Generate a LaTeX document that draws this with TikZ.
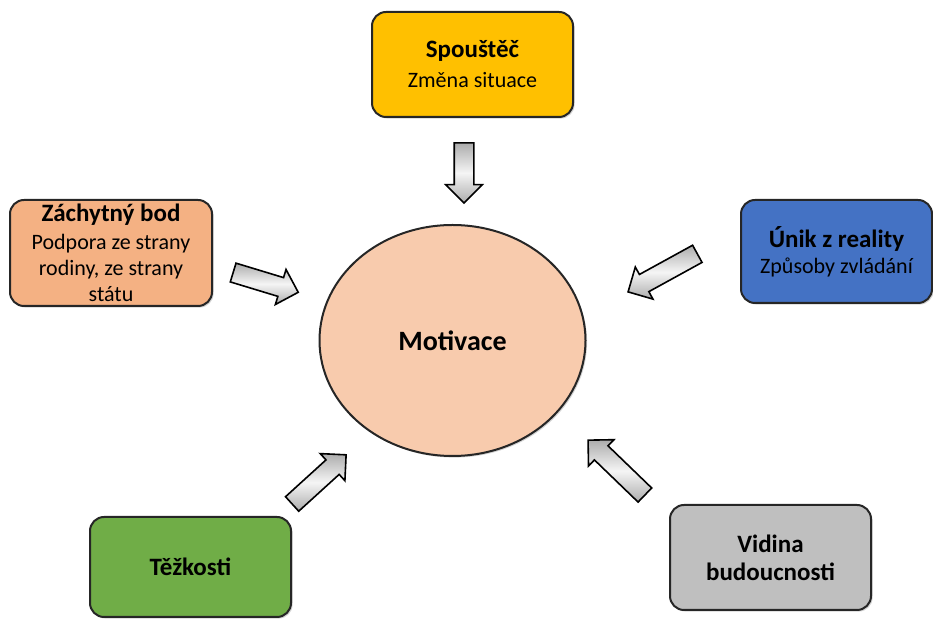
\documentclass[tikz,border=0pt]{standalone}
\usepackage{fontspec}
\setmainfont{Carlito}
\usetikzlibrary{shapes.geometric, shapes.arrows, shadows}

\definecolor{spoustec}{HTML}{FFC000}
\definecolor{zachytny}{HTML}{F4B183}
\definecolor{unik}{HTML}{4472C4}
\definecolor{tezkosti}{HTML}{70AD47}
\definecolor{vidina}{HTML}{BFBFBF}
\definecolor{motivace}{HTML}{F8CBAD}

\tikzset{
  box/.style={draw=black!85, line width=1pt, rounded corners=7pt,
    minimum width=100.5pt, minimum height=52.5pt, inner sep=2pt, align=center,
    font=\fontsize{11}{13}\selectfont,
    drop shadow={opacity=0.35, shadow xshift=0.8pt, shadow yshift=-0.8pt}},
  blockarrow/.style={single arrow, draw=black, line width=0.8pt,
    minimum width=17.5pt, inner sep=4.5pt, single arrow head extend=4.25pt,
    top color=gray!65, bottom color=gray!65, middle color=gray!8}
}
\newcommand{\nadpis}[1]{{\fontsize{12.5}{15}\selectfont\bfseries #1}}

\begin{document}
\begin{tikzpicture}[x=0.5pt, y=-0.5pt]
	\useasboundingbox (0,0) rectangle (933,619);

	% centre
	\node[ellipse, draw=black!85, line width=1pt, fill=motivace,
		minimum width=133pt, minimum height=115.5pt, inner sep=0pt,
		drop shadow={opacity=0.35, shadow xshift=0.8pt, shadow yshift=-0.8pt}]
		(motiv) at (452.5,340.5) {\fontsize{14}{16}\selectfont\bfseries Motivace};

	% boxes round it
	\node[box, fill=spoustec] (spoust) at (472.5,64.5)
		{\nadpis{Spouštěč}\\[2pt] Změna situace};
	\node[box, fill=zachytny, minimum width=101pt, minimum height=53pt] (zachyt) at (111,253)
		{\nadpis{Záchytný bod}\\[1pt] Podpora ze strany\\ rodiny, ze strany\\ státu};
	\node[box, fill=unik, minimum width=95.5pt, minimum height=51.5pt] (unik) at (836.5,251.5)
		{\nadpis{Únik z reality}\\ Způsoby zvládání};
	\node[box, fill=tezkosti, minimum height=50pt] (tezk) at (190.5,567)
		{\nadpis{Těžkosti}};
	\node[box, fill=vidina] (vidin) at (770.5,557.5)
		{\nadpis{Vidina}\\[1pt] \nadpis{budoucnosti}};

	% block arrows
	\node[blockarrow, minimum height=30pt, rotate=-90] (a1) at (464,168) {};
	\node[blockarrow, minimum height=34pt, rotate=-16.9] (a2) at (261,281) {};
	\node[blockarrow, minimum height=39.5pt, rotate=208.8] (a3) at (667,270.5) {};
	\node[blockarrow, minimum height=36.5pt, rotate=42.3] (a4) at (315.5,482.7) {};
	\node[blockarrow, minimum height=39.5pt, rotate=136] (a5) at (620,471) {};

\end{tikzpicture}
\end{document}
